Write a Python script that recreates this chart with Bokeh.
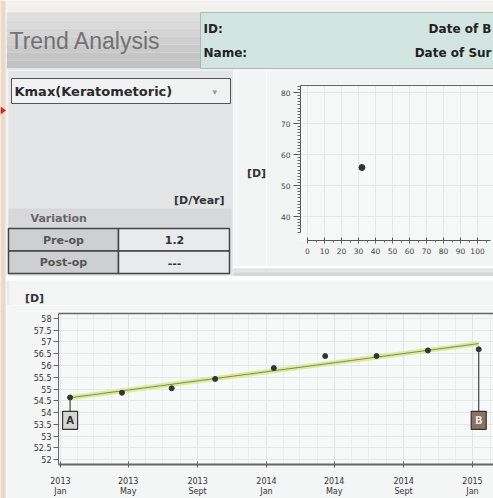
import numpy as np
import pandas as pd
from bokeh.plotting import figure
from bokeh.layouts import column, row
from bokeh.models import Range1d, LinearAxis, FixedTicker, NumeralTickFormatter
from bokeh.core.properties import value
from bokeh.embed import file_html
from bokeh.resources import INLINE

# ---------------- data ----------------
page_title = "Trend Analysis"
header_left = ["ID:", "Name:"]
header_right = ["Date of B", "Date of Sur"]
parameter_name = "Kmax(Keratometoric)"
rate_unit = "[D/Year]"
variation_title = "Variation"
variation_labels = ["Pre-op", "Post-op"]
variation_values = ["1.2", "---"]

# trend (bottom) chart
time_origin = "2013-01-01"
exam_dates = ["2013-01-18", "2013-04-20", "2013-07-17", "2013-10-02", "2014-01-14",
              "2014-04-15", "2014-07-15", "2014-10-14", "2015-01-12"]
kmax_values = [54.64, 54.84, 55.03, 55.43, 55.89, 56.40, 56.40, 56.64, 56.69]
time_tick_dates = ["2013-01-01", "2013-05-01", "2013-09-01", "2014-01-01",
                   "2014-05-01", "2014-09-01", "2015-01-01"]
time_tick_labels = ["2013\nJan", "2013\nMay", "2013\nSept", "2014\nJan",
                    "2014\nMay", "2014\nSept", "2015\nJan"]
kmax_ticks = [52, 52.5, 53, 53.5, 54, 54.5, 55, 55.5, 56, 56.5, 57, 57.5, 58]
marker_letters = ["A", "B"]
unit_label = "[D]"

# scatter (upper right) chart
scatter_x = [32]
scatter_y = [55.8]
scatter_x_ticks = [0, 10, 20, 30, 40, 50, 60, 70, 80, 90, 100]
scatter_y_ticks = [40, 50, 60, 70, 80]

FONT = "DejaVu Sans"


def canvas(x0, x1, y0, y1, bg):
    p = figure(width=x1 - x0, height=y1 - y0,
               x_range=Range1d(x0, x1), y_range=Range1d(y1, y0),
               output_backend="svg", toolbar_location=None,
               x_axis_location=None, y_axis_location=None,
               min_border=0, background_fill_color=bg, border_fill_color=bg,
               outline_line_color=None, frame_align=False)
    p.grid.visible = False
    return p


def txt(p, x, y, s, size="12px", color="#222222", align="left", style="bold", font=FONT):
    p.text(x=[x], y=[y], text=[s], text_font=value(font), text_font_size=size,
           text_font_style=style, text_color=color, text_align=align,
           text_baseline="middle")


# ---------------- left edge strip ----------------
edge = canvas(0, 6, 0, 498, "#ecd9c8")
edge.quad(left=5, right=6, top=0, bottom=498, fill_color="#f3f1ee", line_color=None)
edge.patch(x=[0, 5.5, 0], y=[106, 110, 114], fill_color="#e0221c", line_color=None)

# ---------------- header ----------------
hdr = canvas(6, 493, 0, 70, "#f3f1ef")
band = ["#dedede", "#d9d9d9", "#d4d4d4", "#cfcfcf", "#cacaca", "#c5c5c5", "#c2c2c2"]
for i, c in enumerate(band):
    hdr.quad(left=6, right=200, top=12 + i * 8, bottom=20 + i * 8, fill_color=c, line_color=None)
hdr.quad(left=6, right=200, top=68, bottom=70, fill_color="#e9e9e9", line_color=None)
txt(hdr, 9, 40, page_title, size="23px", color="#727272", style="normal", font="Liberation Sans")
hdr.quad(left=200, right=498, top=12, bottom=68, fill_color="#d3e5e1", line_color="#a3bdb8")
txt(hdr, 203, 28, header_left[0])
txt(hdr, 203, 52, header_left[1])
txt(hdr, 491, 28, header_right[0], align="right")
txt(hdr, 491, 52, header_right[1], align="right")

# ---------------- left panel ----------------
left = canvas(6, 233, 70, 276, "#e3e5e7")
left.quad(left=6, right=8, top=70, bottom=276, fill_color="#f2f2f2", line_color=None)
left.quad(left=11, right=230, top=78, bottom=103, fill_color="#f1f2f2", line_color="#555555")
txt(left, 14, 91, parameter_name, size="13px", color="#2a2a2a")
txt(left, 212, 91, "\u25be", size="9px", color="#9a9a9a", style="normal")
txt(left, 224, 200, rate_unit, size="11px", color="#333333", align="right")
left.quad(left=8, right=231, top=208, bottom=228, fill_color="#d6d8da", line_color=None)
txt(left, 30, 218, variation_title, size="11px", color="#666666")
for i, (lab, val) in enumerate(zip(variation_labels, variation_values)):
    top = 228 + i * 22.5
    left.quad(left=8, right=118, top=top, bottom=top + 22.5, fill_color="#cdcfd1",
              line_color="#444444", line_width=1.5)
    left.quad(left=118, right=229, top=top, bottom=top + 22.5, fill_color="#e8eaec",
              line_color="#444444", line_width=1.5)
    txt(left, 63, top + 11.5, lab, size="11px", color="#555555", align="center")
    txt(left, 174, top + 11.5, val, size="11px", color="#333333", align="center")

# ---------------- upper right scatter ----------------
sp_lab = canvas(233, 266, 70, 266, "#f3f4f4")
txt(sp_lab, 256, 173, unit_label, size="11px", color="#333333", align="center")

sp = figure(width=227, height=196, x_range=Range1d(-4.12, 109.4), y_range=Range1d(32.26, 82.26),
            output_backend="svg", toolbar_location=None, frame_align=False,
            min_border_left=34, min_border_right=0, min_border_top=15, min_border_bottom=26,
            background_fill_color="#f7f8f8", border_fill_color="#f3f4f4",
            outline_line_color=None)
sp.xaxis.ticker = FixedTicker(ticks=scatter_x_ticks, minor_ticks=list(range(0, 108, 5)))
sp.yaxis.ticker = FixedTicker(ticks=scatter_y_ticks, minor_ticks=list(range(35, 83)))
sp.xaxis.bounds = (0, 107.5)
sp.yaxis.bounds = (34.8, 82.26)
for ax in (sp.xaxis[0], sp.yaxis[0]):
    ax.axis_line_color = "#555555"
    ax.major_tick_line_color = "#555555"
    ax.minor_tick_line_color = "#666666"
    ax.major_label_text_font = FONT
    ax.major_label_text_font_size = "7.5px"
    ax.major_label_text_color = "#444444"
sp.xaxis.major_tick_in = 3
sp.xaxis.major_tick_out = 3
sp.xaxis.minor_tick_in = 0
sp.xaxis.minor_tick_out = 2
sp.xaxis.major_label_standoff = 4
sp.yaxis.major_tick_in = 0
sp.yaxis.major_tick_out = 7
sp.yaxis.minor_tick_in = 0
sp.yaxis.minor_tick_out = 3
sp.yaxis.major_label_standoff = 3
sp.add_layout(LinearAxis(ticker=FixedTicker(ticks=[]), major_label_text_font_size="0px",
                         major_tick_out=0, major_tick_in=0, major_label_standoff=0,
                         axis_line_color="#666666"), "above")
sp.xgrid.grid_line_color = "#e6e8e8"
sp.ygrid.grid_line_color = "#e6e8e8"
sp.scatter(scatter_x, scatter_y, size=6, color="#333333")

strip1 = canvas(233, 493, 266, 276, "#d4d6d8")
strip1.quad(left=233, right=493, top=266, bottom=270, fill_color="#e2e4e5", line_color=None)
strip2 = canvas(6, 493, 276, 280, "#dcdedf")

# ---------------- bottom trend chart ----------------
origin = pd.Timestamp(time_origin)
days = [(pd.Timestamp(d) - origin).days for d in exam_dates]
tick_days = [(pd.Timestamp(d) - origin).days for d in time_tick_dates]
month_days = [(d - origin).days for d in pd.date_range("2013-01-01", "2015-02-01", freq="MS")]

bp_lab = canvas(6, 493, 280, 305, "#f4f5f5")
bp_lab.quad(left=6, right=9, top=280, bottom=305, fill_color="#e9ebeb", line_color=None)
txt(bp_lab, 34, 298, unit_label, size="11px", color="#333333", align="center")

bp = figure(width=487, height=193, x_range=Range1d(-3.5, 767.2), y_range=Range1d(51.79, 58.21),
            output_backend="svg", toolbar_location=None, frame_align=False,
            min_border_left=52, min_border_right=0, min_border_top=8, min_border_bottom=33,
            background_fill_color="#f7f8f8", border_fill_color="#f4f5f5",
            outline_line_color=None)
bp.xaxis.ticker = FixedTicker(ticks=tick_days, minor_ticks=month_days)
bp.xaxis.major_label_overrides = {int(d): lab for d, lab in zip(tick_days, time_tick_labels)}
bp.yaxis.ticker = FixedTicker(ticks=kmax_ticks)
bp.yaxis.formatter = NumeralTickFormatter(format="0.[0]")
for ax in (bp.xaxis[0], bp.yaxis[0]):
    ax.axis_line_color = "#666666"
    ax.major_tick_line_color = "#666666"
    ax.minor_tick_line_color = None
    ax.major_label_text_font = FONT
    ax.major_label_text_font_size = "8px"
    ax.major_label_text_color = "#333333"
bp.xaxis.axis_line_width = 2
bp.xaxis.major_tick_in = 3
bp.xaxis.major_tick_out = 3
bp.xaxis.major_label_standoff = 8
bp.xaxis.major_label_text_line_height = 1.15
bp.yaxis.major_tick_in = 0
bp.yaxis.major_tick_out = 5
bp.yaxis.major_label_standoff = 2
bp.add_layout(LinearAxis(ticker=FixedTicker(ticks=[]), major_label_text_font_size="0px",
                         major_tick_out=0, major_tick_in=0, major_label_standoff=0,
                         axis_line_color="#666666", axis_line_width=1.5), "above")
bp.xgrid.grid_line_color = "#e3e5e5"
bp.xgrid.minor_grid_line_color = "#eceeee"
bp.ygrid.grid_line_color = "#e6e8e8"

slope, intercept = np.polyfit(days, kmax_values, 1)
tx = [days[0], days[-1]]
ty = [slope * d + intercept for d in tx]
bp.line(tx, ty, line_width=5, color="#dbe796", alpha=0.9)
bp.line(tx, ty, line_width=1, color="#7f8f3e")
bp.scatter(days, kmax_values, size=5, color="#333333")

box_level = 53.67
ends_x = [days[0], days[-1]]
ends_y = [kmax_values[0], kmax_values[-1]]
bp.segment(x0=ends_x, y0=ends_y, x1=ends_x, y1=[box_level, box_level], line_color="#444444",
           line_width=1.2)
bp.rect(x=ends_x, y=[box_level, box_level], width=15, height=18, width_units="screen",
        height_units="screen", fill_color=["#d6d6d2", "#8a7264"], line_color="#333333",
        line_width=1.2)
bp.text(x=ends_x, y=[box_level, box_level], text=marker_letters, text_font=value(FONT),
        text_font_size="10px", text_font_style="bold", text_color=["#333333", "#efe6de"],
        text_align="center", text_baseline="middle")

right_col = column(row(sp_lab, sp, spacing=0), strip1, spacing=0)
main = column(hdr, row(left, right_col, spacing=0), strip2, bp_lab, bp, spacing=0)
layout = row(edge, main, spacing=0)

open("out.html", "w").write(file_html(layout, INLINE, title="Trend Analysis"))
